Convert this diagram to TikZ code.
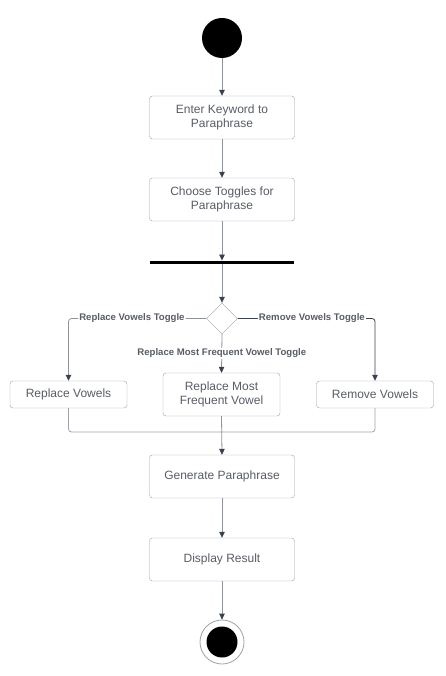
\documentclass[tikz,border=0pt]{standalone}
\usepackage{fontspec}
\setmainfont{Liberation Sans}
\usetikzlibrary{arrows.meta,shapes.geometric}
\definecolor{boxline}{HTML}{9EA2A8}
\definecolor{boxtext}{HTML}{585D66}
\definecolor{linecol}{HTML}{8E9399}
\definecolor{tipcol}{HTML}{3A414C}
\tikzset{%
  tipA/.tip={Triangle[length=6pt,width=5.5pt,color=tipcol]},
  activity/.style={draw=boxline, rounded corners=3pt, fill=white, text=boxtext,
    font=\fontsize{12}{14}\selectfont, align=center, inner sep=0pt,
    minimum height=43pt, minimum width=145pt},
  small/.style={activity, minimum height=27pt, minimum width=117pt},
  flow/.style={draw=linecol, line width=0.8pt, -tipA},
  guard/.style={fill=white, text=boxtext, font=\bfseries\fontsize{9.6}{11}\selectfont, inner sep=1pt}
}

\begin{document}
\begin{tikzpicture}[x=1pt,y=-1pt]
\useasboundingbox (0,0) rectangle (446,676);
\node[circle, fill=black, minimum size=40pt, inner sep=0pt] (start) at (222,38) {};
\node[activity] (enter) at (222,117.5) {Enter Keyword to\\Paraphrase};
\node[activity] (choose) at (222,199.5) {Choose Toggles for\\Paraphrase};
\node[fill=black, minimum width=144pt, minimum height=3.5pt, inner sep=0pt] (fork) at (222,262.5) {};
\node[diamond, draw=boxline, fill=white, minimum width=31pt, minimum height=31pt, inner sep=0pt] (dec) at (222,318.5) {};
\node[small] (repl) at (68.5,394.5) {Replace Vowels};
\node[activity, minimum width=117pt] (freq) at (221.5,394.5) {Replace Most\\Frequent Vowel};
\node[small] (remv) at (375,394.5) {Remove Vowels};
\coordinate (join) at (222,432);
\node[activity] (gen) at (222,476.5) {Generate Paraphrase};
\node[activity] (show) at (222,559.5) {Display Result};
\node[circle, draw=boxline, line width=0.8pt, minimum size=44pt, inner sep=0pt] (stop) at (222,642) {};
\node[circle, fill=black, minimum size=31pt, inner sep=0pt] (stopin) at (stop) {};
% connectors
\draw[flow] (start) -- (enter);
\draw[flow] (enter) -- (choose);
\draw[flow] (choose) -- (fork);
\draw[flow] (fork) -- (dec);
\draw[flow, rounded corners=3pt] (dec.west) -| node[guard, pos=0.27] {Replace Vowels Toggle} (repl.north);
\draw[flow, draw=tipcol, rounded corners=3pt] (dec.east) -| node[guard, pos=0.27] {Remove Vowels Toggle} (remv.north);
\draw[flow] (dec.south) -- node[guard] {Replace Most Frequent Vowel Toggle} (freq.north);
\draw[draw=boxline, line width=0.8pt, rounded corners=3pt] (repl.south) |- (join) -| (remv.south);
\draw[flow] (freq.south) -- (gen.north);
\draw[flow] (gen) -- (show);
\draw[flow] (show) -- (stop);
\end{tikzpicture}
\end{document}
